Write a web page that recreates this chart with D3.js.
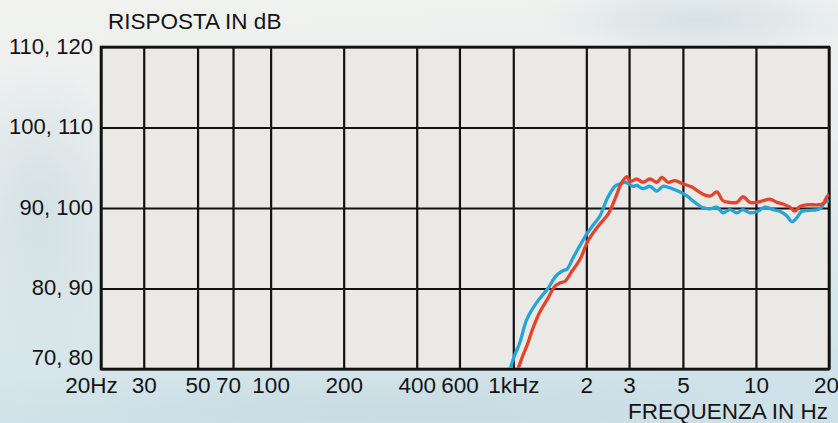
<!DOCTYPE html>
<html>
<head>
<meta charset="utf-8">
<script src="https://cdn.jsdelivr.net/npm/d3@7"></script>
<style>
  html, body { margin: 0; padding: 0; }
  body { width: 838px; height: 423px; overflow: hidden; }
  svg { display: block; }
  text { font-family: "Liberation Sans", Arial, Helvetica, sans-serif; fill: #141414; }
</style>
</head>
<body>
<svg id="chart" width="838" height="423"></svg>
<script>
// ---- data ----
const xTicks = [20, 30, 50, 70, 100, 200, 400, 600, 1000, 2000, 3000, 5000, 10000, 20000];
const xTickLabels = ["20Hz", "30", "50", "70", "100", "200", "400", "600", "1kHz", "2", "3", "5", "10", "20"];
const yTicks = [70, 80, 90, 100, 110];
const yTickLabels = ["70, 80", "80, 90", "90, 100", "100, 110", "110, 120"];
const yTitle = "RISPOSTA IN dB";
const xTitle = "FREQUENZA IN Hz";

// [frequency Hz, level dB]
const blueCurve = [
  [940, 69.2], [969, 70.0], [1010, 71.6], [1065, 73.3], [1138, 76.2], [1252, 78.3], [1389, 80.0],
  [1470, 81.2], [1528, 81.8], [1600, 82.2], [1664, 82.4], [1750, 83.6], [1847, 84.9], [2031, 87.0],
  [2150, 88.0], [2276, 89.0], [2432, 91.1], [2624, 92.7], [2760, 93.0], [2885, 93.2], [3000, 93.0],
  [3112, 92.7], [3232, 92.8], [3421, 92.4], [3657, 92.7], [3907, 92.1], [4137, 92.7], [4506, 92.4],
  [4770, 92.1], [5195, 91.5], [5604, 90.7], [5990, 90.1], [6461, 89.9], [6904, 90.1], [7309, 89.4],
  [7810, 89.8], [8346, 89.4], [8835, 89.8], [9443, 89.4], [10187, 89.6], [10888, 90.1], [11746, 89.8],
  [12552, 89.6], [13415, 89.0], [14067, 88.3], [14750, 88.8], [15466, 89.6], [16687, 89.7],
  [18345, 89.9], [19235, 90.7], [20000, 90.9]
];
const redCurve = [
  [1010, 69.0], [1045, 70.0], [1090, 71.5], [1138, 72.9], [1210, 75.2], [1288, 77.1], [1390, 78.8],
  [1485, 80.3], [1560, 80.7], [1633, 80.9], [1750, 82.2], [1882, 83.6], [2031, 85.9], [2233, 87.7],
  [2455, 89.2], [2624, 91.1], [2804, 93.2], [2940, 93.9], [3025, 93.3], [3232, 93.6], [3421, 93.2],
  [3657, 93.6], [3907, 93.2], [4098, 93.8], [4338, 93.2], [4636, 93.4], [5001, 93.0], [5446, 92.6],
  [5766, 92.1], [6163, 91.6], [6500, 91.5], [6904, 92.0], [7309, 90.9], [7810, 90.7], [8346, 90.7],
  [8835, 91.4], [9443, 90.7], [10091, 90.7], [10683, 90.9], [11416, 91.1], [12201, 90.7],
  [12914, 90.5], [13802, 90.1], [14472, 89.6], [15176, 90.2], [16217, 90.4], [17832, 90.4],
  [18874, 90.5], [19605, 91.4], [20000, 91.7]
];

// ---- layout ----
const W = 838, H = 423;
const plot = { left: 101, right: 829, top: 47, bottom: 369 };
const FONT = "Liberation Sans, Arial, sans-serif";

const svg = d3.select("#chart");
const defs = svg.append("defs");

// photographic-looking background (pale sky/snow)
const bg = defs.append("linearGradient").attr("id", "bgGrad")
  .attr("x1", 0).attr("y1", 0).attr("x2", 0.15).attr("y2", 1);
bg.append("stop").attr("offset", "0%").attr("stop-color", "#f1f2f0");
bg.append("stop").attr("offset", "45%").attr("stop-color", "#e9eeee");
bg.append("stop").attr("offset", "80%").attr("stop-color", "#d9e7ea");
bg.append("stop").attr("offset", "100%").attr("stop-color", "#cfe2e9");
svg.append("rect").attr("width", W).attr("height", H).attr("fill", "url(#bgGrad)");

const blot = defs.append("radialGradient").attr("id", "blot");
blot.append("stop").attr("offset", "0%").attr("stop-color", "#c6d8de").attr("stop-opacity", 0.6);
blot.append("stop").attr("offset", "100%").attr("stop-color", "#c6d8de").attr("stop-opacity", 0);
svg.append("ellipse").attr("cx", 40).attr("cy", 210).attr("rx", 90).attr("ry", 150).attr("fill", "url(#blot)");
svg.append("ellipse").attr("cx", 700).attr("cy", 20).attr("rx", 160).attr("ry", 40).attr("fill", "url(#blot)");
svg.append("ellipse").attr("cx", 420).attr("cy", 410).attr("rx", 420).attr("ry", 40).attr("fill", "url(#blot)");

// scales
const x = d3.scaleLog().domain([20, 20000]).range([plot.left, plot.right]);
const y = d3.scaleLinear().domain([70, 110]).range([plot.bottom, plot.top]);

// plot area fill
svg.append("rect")
  .attr("x", plot.left).attr("y", plot.top)
  .attr("width", plot.right - plot.left).attr("height", plot.bottom - plot.top)
  .attr("fill", "#ebe9e5");

// vertical grid
const gx = svg.append("g").attr("transform", `translate(0,${plot.bottom})`)
  .call(d3.axisBottom(x).tickValues(xTicks).tickSize(-(plot.bottom - plot.top)).tickFormat(""));
gx.select(".domain").remove();
gx.selectAll(".tick line").attr("stroke", "#121212").attr("stroke-width", 2.2);

// horizontal grid
const gy = svg.append("g").attr("transform", `translate(${plot.left},0)`)
  .call(d3.axisLeft(y).tickValues(yTicks).tickSize(-(plot.right - plot.left)).tickFormat(""));
gy.select(".domain").remove();
gy.selectAll(".tick line").attr("stroke", "#121212").attr("stroke-width", 2.2);

// frame
svg.append("rect")
  .attr("x", plot.left).attr("y", plot.top)
  .attr("width", plot.right - plot.left).attr("height", plot.bottom - plot.top)
  .attr("fill", "none").attr("stroke", "#121212").attr("stroke-width", 2.6);

// curves
defs.append("clipPath").attr("id", "plotClip").append("rect")
  .attr("x", plot.left).attr("y", plot.top)
  .attr("width", plot.right - plot.left).attr("height", plot.bottom - plot.top - 1);

const line = d3.line()
  .x(d => x(d[0])).y(d => y(d[1]))
  .curve(d3.curveCatmullRom.alpha(0.5));

const curves = svg.append("g").attr("clip-path", "url(#plotClip)");
curves.append("path").datum(blueCurve)
  .attr("d", line).attr("fill", "none")
  .attr("stroke", "#27a4d6").attr("stroke-width", 3.3).attr("stroke-linejoin", "round");
curves.append("path").datum(redCurve)
  .attr("d", line).attr("fill", "none")
  .attr("stroke", "#e4442c").attr("stroke-width", 3.3).attr("stroke-linejoin", "round");

// x tick labels
const xl = svg.append("g").attr("transform", `translate(0,${plot.bottom})`)
  .call(d3.axisBottom(x).tickValues(xTicks).tickSize(0).tickPadding(0)
    .tickFormat((d, i) => xTickLabels[i]));
xl.select(".domain").remove();
xl.selectAll("text")
  .attr("y", 24).attr("dy", 0)
  .attr("font-size", 22.5)
  .attr("font-family", FONT)
  .attr("fill", "#141414")
  .attr("dx", (d, i) => i === 0 ? -10 : (d === 70 ? -5 : (i === xTicks.length - 1 ? -3 : 0)));

// y tick labels
const yl = svg.append("g").attr("transform", `translate(${plot.left},0)`)
  .call(d3.axisLeft(y).tickValues(yTicks).tickSize(0).tickPadding(8)
    .tickFormat((d, i) => yTickLabels[i]));
yl.select(".domain").remove();
yl.selectAll("text")
  .attr("dy", (d, i) => i === 0 ? -5 : 6)
  .attr("font-size", 22)
  .attr("font-family", FONT)
  .attr("fill", "#141414");

// axis titles
svg.append("text").attr("x", 108).attr("y", 29)
  .attr("font-size", 22.5).text(yTitle);
svg.append("text").attr("x", 828).attr("y", 419)
  .attr("text-anchor", "end").attr("font-size", 22.5).text(xTitle);
</script>
</body>
</html>
